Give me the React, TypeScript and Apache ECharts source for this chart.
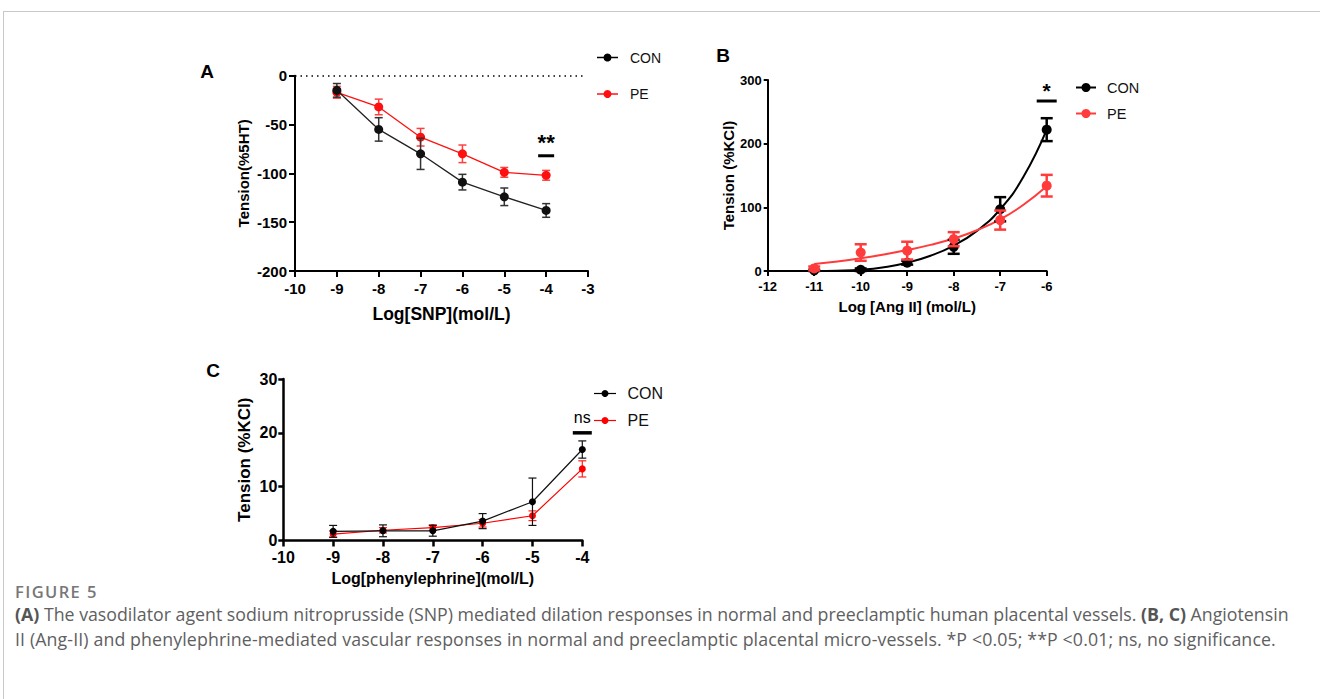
import React, { useEffect, useRef } from "react";
import * as echarts from "echarts";

const FONT = '"Liberation Sans", Arial, sans-serif';

// ---------- Panel A (SNP) ----------
const aX = [-9, -8, -7, -6, -5, -4];
const aCon = [-15, -55, -80, -109, -124, -138];
const aConErr = [7, 12, 16, 8, 9, 7];
const aPe = [-17, -32, -63, -80, -99, -102];
const aPeErr = [6, 8, 9, 9, 5, 5];
const aSigX = [-4];
const aSigY = [-82];
const aSigText = ["**"];

// ---------- Panel B (Ang II) ----------
const bX = [-11, -10, -9, -8, -7, -6];
const bCon = [1, 2, 13, 38, 97, 222];
const bConErr = [1, 2, 3, 11, 19, 18];
const bPe = [4, 29, 32, 50, 80, 134];
const bPeErr = [3, 13, 14, 11, 15, 17];
const bFitX = [-11, -10.5, -10, -9.5, -9, -8.5, -8, -7.5, -7, -6.5, -6];
const bConFit = [0, 0.5, 2, 6, 13, 24, 40, 63, 97, 148, 222];
const bPeFit = [11, 15, 20, 26, 33, 41, 51, 64, 81, 104, 133];
const bSigX = [-6];
const bSigY = [267];
const bSigText = ["*"];

// ---------- Panel C (phenylephrine) ----------
const cX = [-9, -8, -7, -6, -5, -4];
const cCon = [1.7, 1.8, 1.8, 3.6, 7.2, 16.9];
const cConErr = [1.1, 1.1, 1.0, 1.4, 4.4, 1.6];
const cPe = [1.2, 1.9, 2.4, 3.2, 4.6, 13.3];
const cPeErr = [0.6, 0.5, 0.5, 0.7, 0.9, 1.5];
const cSigX = [-4];
const cSigY = [20];
const cSigText = ["ns"];

const legendNames = ["CON", "PE"];

function pairs(x: number[], y: number[]) {
  return x.map((v, i) => [v, y[i]]);
}

function errSeries(idx: number, x: number[], mean: number[], err: number[], color: string, lw: number, cap: number, z: number) {
  return {
    type: "custom",
    xAxisIndex: idx,
    yAxisIndex: idx,
    silent: true,
    z,
    data: x.map((v, i) => [v, mean[i] - err[i], mean[i] + err[i]]),
    encode: { x: 0, y: [1, 2] },
    renderItem: (_p: any, api: any) => {
      const lo = api.coord([api.value(0), api.value(1)]);
      const hi = api.coord([api.value(0), api.value(2)]);
      const st = { stroke: color, lineWidth: lw };
      return {
        type: "group",
        children: [
          { type: "line", shape: { x1: lo[0], y1: lo[1], x2: hi[0], y2: hi[1] }, style: st },
          { type: "line", shape: { x1: lo[0] - cap, y1: lo[1], x2: lo[0] + cap, y2: lo[1] }, style: st },
          { type: "line", shape: { x1: hi[0] - cap, y1: hi[1], x2: hi[0] + cap, y2: hi[1] }, style: st },
        ],
      };
    },
  };
}

function sigSeries(idx: number, x: number[], y: number[], texts: string[], halfW: number, thick: number, off: number, font: string) {
  return {
    type: "custom",
    xAxisIndex: idx,
    yAxisIndex: idx,
    silent: true,
    z: 10,
    data: x.map((v, i) => [v, y[i], i]),
    encode: { x: 0, y: 1 },
    renderItem: (_p: any, api: any) => {
      const p = api.coord([api.value(0), api.value(1)]);
      const t = texts[api.value(2)];
      return {
        type: "group",
        children: [
          { type: "rect", shape: { x: p[0] - halfW, y: p[1] - thick / 2, width: halfW * 2, height: thick }, style: { fill: "#000" } },
          { type: "text", x: p[0], y: p[1] - off, style: { text: t, fill: "#000", font, align: "center", verticalAlign: "middle" } },
        ],
      };
    },
  };
}

function axis(fontSize: number, lw: number, tickLen: number, margin: number) {
  return {
    type: "value",
    axisLine: { show: true, onZero: false, lineStyle: { color: "#000", width: lw } },
    axisTick: { show: true, inside: false, length: tickLen, lineStyle: { color: "#000", width: lw } },
    axisLabel: { color: "#000", fontFamily: FONT, fontWeight: "bold", fontSize, margin },
    splitLine: { show: false },
  };
}

function legendGraphic(x1: number, x2: number, yTop: number, yBot: number, tx: number, size: number, r: number, lw: number, conColor: string, peColor: string) {
  const colors = [conColor, peColor];
  const ys = [yTop, yBot];
  const els: any[] = [];
  legendNames.forEach((n, i) => {
    els.push({ type: "line", shape: { x1, y1: ys[i], x2, y2: ys[i] }, style: { stroke: colors[i], lineWidth: lw } });
    els.push({ type: "circle", shape: { cx: (x1 + x2) / 2, cy: ys[i], r }, style: { fill: colors[i] } });
    els.push({ type: "text", x: tx, y: ys[i], style: { text: n, fill: "#111", font: `${size}px ${FONT}`, verticalAlign: "middle", align: "left" } });
  });
  return els;
}

export default function App() {
  const ref = useRef<HTMLDivElement>(null);
  useEffect(() => {
    const chart = echarts.init(ref.current!, null, { renderer: "svg" });
    const RED_A = "#ff1010";
    const RED_B = "#ff3b3b";
    const nameStyle = (s: number) => ({ color: "#000", fontFamily: FONT, fontWeight: "bold", fontSize: s });
    chart.setOption({
      animation: false,
      backgroundColor: "transparent",
      grid: [
        { left: 295, top: 75.7, width: 293, height: 195.3 },
        { left: 767.7, top: 80, width: 279, height: 191 },
        { left: 283.3, top: 379, width: 299, height: 161.5 },
      ],
      xAxis: [
        { ...axis(15, 2, 6, 10), gridIndex: 0, min: -10, max: -3, interval: 1, name: "Log[SNP](mol/L)", nameLocation: "middle", nameGap: 34, nameTextStyle: nameStyle(17.5) },
        { ...axis(13, 2, 5, 9), gridIndex: 1, min: -12, max: -6, interval: 1, name: "Log [Ang II] (mol/L)", nameLocation: "middle", nameGap: 28, nameTextStyle: nameStyle(15) },
        { ...axis(16, 2.5, 6, 9), gridIndex: 2, min: -10, max: -4, interval: 1, name: "Log[phenylephrine](mol/L)", nameLocation: "middle", nameGap: 30, nameTextStyle: nameStyle(16) },
      ],
      yAxis: [
        { ...axis(15, 2, 6, 8), gridIndex: 0, min: -200, max: 0, interval: 50, name: "Tension(%5HT)", nameLocation: "middle", nameGap: 44, nameRotate: 90, nameTextStyle: nameStyle(15) },
        { ...axis(13, 2, 4, 6), gridIndex: 1, min: 0, max: 300, interval: 100, name: "Tension (%KCl)", nameLocation: "middle", nameGap: 30, nameRotate: 90, nameTextStyle: nameStyle(15) },
        { ...axis(16, 2.5, 5, 6), gridIndex: 2, min: 0, max: 30, interval: 10, name: "Tension (%KCl)", nameLocation: "middle", nameGap: 30, nameRotate: 90, nameTextStyle: nameStyle(17) },
      ],
      series: [
        // Panel A
        {
          type: "line", name: "PE", xAxisIndex: 0, yAxisIndex: 0, data: pairs(aX, aPe), symbol: "circle", symbolSize: 9,
          itemStyle: { color: RED_A }, lineStyle: { color: RED_A, width: 1.3 }, z: 3,
          markLine: {
            silent: true, symbol: "none", label: { show: false },
            lineStyle: { color: "#000", type: [1.5, 4], width: 1.5 },
            data: [[{ coord: [-10, 0] }, { coord: [-3.12, 0] }]],
          },
        },
        errSeries(0, aX, aPe, aPeErr, "#ff4040", 1.5, 4, 2),
        { type: "line", name: "CON", xAxisIndex: 0, yAxisIndex: 0, data: pairs(aX, aCon), symbol: "circle", symbolSize: 9, itemStyle: { color: "#111" }, lineStyle: { color: "#222", width: 1.3 }, z: 5 },
        errSeries(0, aX, aCon, aConErr, "#333", 1.5, 4, 4),
        sigSeries(0, aSigX, aSigY, aSigText, 8, 3, 13, `bold 22px ${FONT}`),
        // Panel B
        { type: "line", name: "CON fit", xAxisIndex: 1, yAxisIndex: 1, data: pairs(bFitX, bConFit), smooth: true, showSymbol: false, lineStyle: { color: "#000", width: 2 }, z: 2 },
        { type: "line", name: "PE fit", xAxisIndex: 1, yAxisIndex: 1, data: pairs(bFitX, bPeFit), smooth: true, showSymbol: false, lineStyle: { color: RED_B, width: 2 }, z: 2 },
        errSeries(1, bX, bCon, bConErr, "#000", 2.5, 6, 3),
        { type: "scatter", name: "CON", xAxisIndex: 1, yAxisIndex: 1, data: pairs(bX, bCon), symbol: "circle", symbolSize: 10, itemStyle: { color: "#000", opacity: 1 }, z: 4 },
        errSeries(1, bX, bPe, bPeErr, RED_B, 2.5, 6, 5),
        { type: "scatter", name: "PE", xAxisIndex: 1, yAxisIndex: 1, data: pairs(bX, bPe), symbol: "circle", symbolSize: 10, itemStyle: { color: RED_B, opacity: 1 }, z: 6 },
        sigSeries(1, bSigX, bSigY, bSigText, 10, 3, 11, `bold 21px ${FONT}`),
        // Panel C
        { type: "line", name: "PE", xAxisIndex: 2, yAxisIndex: 2, data: pairs(cX, cPe), symbol: "circle", symbolSize: 7, itemStyle: { color: "#ff0000" }, lineStyle: { color: "#ff0000", width: 1.2 }, z: 3 },
        errSeries(2, cX, cPe, cPeErr, "#ff2020", 1.2, 4, 2),
        { type: "line", name: "CON", xAxisIndex: 2, yAxisIndex: 2, data: pairs(cX, cCon), symbol: "circle", symbolSize: 7, itemStyle: { color: "#000" }, lineStyle: { color: "#111", width: 1.2 }, z: 5 },
        errSeries(2, cX, cCon, cConErr, "#111", 1.2, 4, 4),
        sigSeries(2, cSigX, cSigY, cSigText, 9.5, 3.5, 15, `16px ${FONT}`),
      ],
      graphic: {
        elements: [
          { type: "text", x: 207, y: 71, style: { text: "A", fill: "#000", font: `bold 19px ${FONT}`, align: "center", verticalAlign: "middle" } },
          { type: "text", x: 723, y: 55, style: { text: "B", fill: "#000", font: `bold 19px ${FONT}`, align: "center", verticalAlign: "middle" } },
          { type: "text", x: 213, y: 370, style: { text: "C", fill: "#000", font: `bold 19px ${FONT}`, align: "center", verticalAlign: "middle" } },
          ...legendGraphic(597, 618, 57.5, 94, 630, 14, 4, 1.5, "#000", "#ff1010"),
          ...legendGraphic(1076, 1096, 87.5, 113.5, 1107, 14.5, 4.5, 2, "#000", "#ff3b3b"),
          ...legendGraphic(594, 616, 393.5, 420.5, 627.5, 16, 3.5, 1.2, "#000", "#ff0000"),
        ],
      },
    });
    return () => chart.dispose();
  }, []);

  const bold = { fontWeight: 700, color: "#555" };
  return (
    <div style={{ position: "absolute", left: 0, top: 0, width: 1320, height: 699, background: "#fff", overflow: "hidden" }}>
      <div style={{ position: "absolute", left: 3, top: 11, right: 0, height: 0, borderTop: "1px solid #c8c8c8" }} />
      <div style={{ position: "absolute", left: 3, top: 11, bottom: 0, width: 0, borderLeft: "1px solid #c8c8c8" }} />
      <div ref={ref} style={{ position: "absolute", left: 0, top: 0, width: 1320, height: 699 }} />
      <div style={{ position: "absolute", left: 15, top: 583, width: 1300, fontFamily: '"Open Sans", "Noto Sans", sans-serif', color: "#606060" }}>
        <div style={{ fontSize: 16.5, fontWeight: 600, color: "#777", lineHeight: "18px", letterSpacing: 1.4 }}>FIGURE 5</div>
        <div style={{ fontSize: 17.75, lineHeight: "25px", marginTop: 0.5, whiteSpace: "nowrap" }}>
          <b style={bold}>(A)</b> The vasodilator agent sodium nitroprusside (SNP) mediated dilation responses in normal and preeclamptic human placental vessels. <b style={bold}>(B, C)</b> Angiotensin
        </div>
        <div style={{ fontSize: 17.75, lineHeight: "25px", whiteSpace: "nowrap", letterSpacing: 0.12 }}>
          II (Ang-II) and phenylephrine-mediated vascular responses in normal and preeclamptic placental micro-vessels. *P &lt;0.05; **P &lt;0.01; ns, no significance.
        </div>
      </div>
    </div>
  );
}
